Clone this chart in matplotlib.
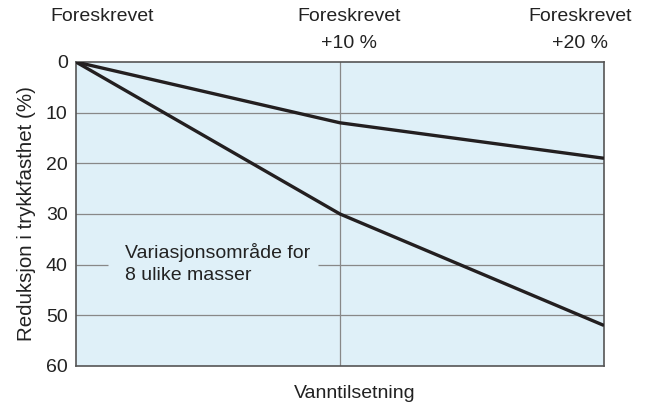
import matplotlib.pyplot as plt
from matplotlib.transforms import blended_transform_factory

plt.rcParams['font.family'] = ['Liberation Sans', 'DejaVu Sans']
plt.rcParams['font.size'] = 14

# x positions: foreskrevet, +10 %, +20 %
x = [0, 1, 2]
top_labels = ['Foreskrevet', 'Foreskrevet\n+10 %', 'Foreskrevet\n+20 %']
upper = [0, 12, 19]
lower = [0, 30, 52]
yticks = [0, 10, 20, 30, 40, 50, 60]

fig = plt.figure(figsize=(6.51, 4.07), dpi=100)
ax = fig.add_axes([76/651, 1 - 366/407, 528/651, 304/407])
ax.set_facecolor('#dff0f8')

ax.set_xlim(0, 2)
ax.set_ylim(60, 0)
ax.set_yticks(yticks)
ax.set_xticks([])
ax.tick_params(axis='y', length=0, pad=6, labelsize=14, colors='#222222')
for s in ax.spines.values():
    s.set_color('#555555')
    s.set_linewidth(1.2)

grid_kw = dict(color='#888888', lw=0.9, zorder=1)
for yv in [10, 20, 30, 50]:
    ax.axhline(yv, **grid_kw)
# the 40 line is broken where the note sits
ax.hlines(40, 0, 0.121, **grid_kw)
ax.hlines(40, 0.917, 2, **grid_kw)
ax.axvline(1, **grid_kw)

ax.plot(x, upper, color='#231f20', lw=2.4, zorder=3, solid_capstyle='butt')
ax.plot(x, lower, color='#231f20', lw=2.4, zorder=3, solid_capstyle='butt')

ax.text(0.186, 39.8, 'Variasjonsområde for\n8 ulike masser', ha='left', va='center',
        fontsize=14, color='#222222', linespacing=1.4, zorder=2)

tr = blended_transform_factory(ax.transData, fig.transFigure)
label_x = [0.1, 1.034, 1.91]
for xv, lab in zip(label_x, top_labels):
    ax.text(xv, 1 - 8/407, lab, ha='center', va='top', fontsize=14,
            color='#222222', linespacing=1.75, clip_on=False, transform=tr)

ax.set_ylabel('Reduksjon i trykkfasthet (%)', fontsize=14.8, color='#222222', labelpad=7)
ax.set_xlabel('Vanntilsetning', fontsize=14, color='#222222', labelpad=14, x=0.528)

fig.savefig('out.png', dpi=100)
